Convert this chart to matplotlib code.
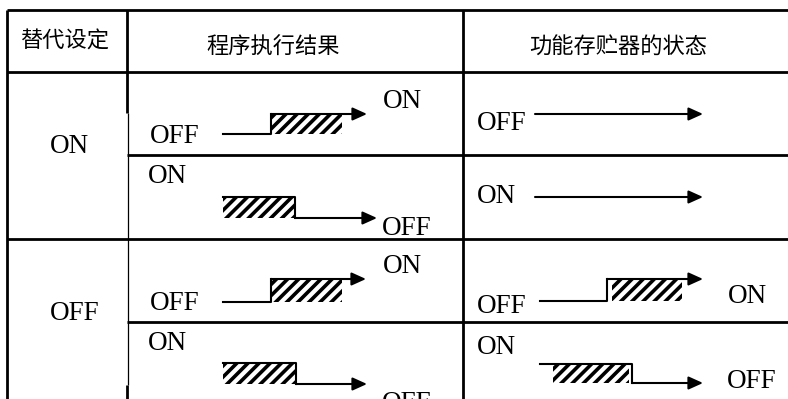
import matplotlib
matplotlib.use('Agg')
import matplotlib.pyplot as plt
from matplotlib.patches import Rectangle

plt.rcParams['hatch.linewidth'] = 2.6

headers = ['替代设定', '程序执行结果', '功能存贮器的状态']
settings = ['ON', 'OFF']
# (start state, end state) per sub-row
program_result = [('OFF', 'ON'), ('ON', 'OFF'), ('OFF', 'ON'), ('ON', 'OFF')]
memory_state = [('OFF', 'OFF'), ('ON', 'ON'), ('OFF', 'ON'), ('ON', 'OFF')]

# ---- layout (pixel units, y grows downward) ----
W, H = 788, 399
left, top, head_bot = 7, 10, 72
col_x = [127, 463]
row_tops = [72, 155, 239, 322]
serif = 'Liberation Serif'
fs = 19.5
lw = 1.5

# per cell geometry: x positions and y levels (hi = ON, lo = OFF)
prog_geo = [
    dict(lx=150, x0=223, step=271, tip=367, hatch=(272, 342), ex=383,
         hi=114, lo=134, lby=143, eby=108),
    dict(lx=148, x0=223, step=295, tip=377, hatch=(223, 294), ex=382,
         hi=197, lo=218, lby=183, eby=235),
    dict(lx=150, x0=223, step=271, tip=366, hatch=(272, 342), ex=383,
         hi=279, lo=302, lby=310, eby=273),
    dict(lx=148, x0=223, step=296, tip=367, hatch=(223, 295), ex=382,
         hi=363, lo=384, lby=350, eby=410),
]
mem_geo = [
    dict(lx=477, x0=535, tip=703, y=114, lby=130),
    dict(lx=477, x0=535, tip=703, y=197, lby=203),
    dict(lx=477, x0=540, step=607, tip=703, hatch=(612, 682), ex=728,
         hi=279, lo=301, lby=313, eby=303),
    dict(lx=477, x0=540, step=632, tip=703, hatch=(553, 629), ex=727,
         hi=364, lo=383, lby=354, eby=388),
]

fig = plt.figure(figsize=(W / 100, H / 100), dpi=100)
ax = fig.add_axes([0, 0, 1, 1])
ax.set_xlim(0, W)
ax.set_ylim(H, 0)
ax.axis('off')

arrow_props = dict(arrowstyle='-|>,head_length=0.62,head_width=0.28',
                   mutation_scale=14, lw=lw, color='black',
                   shrinkA=0, shrinkB=0)


def hline(y, x0, x1, w=2.0):
    ax.plot([x0, x1], [y, y], color='black', lw=w, solid_capstyle='butt')


def vline(x, y0, y1, w=2.0):
    ax.plot([x, x], [y0, y1], color='black', lw=w, solid_capstyle='butt')


def label(x, y, s):
    ax.text(x, y, s, family=serif, fontsize=fs, ha='left', va='baseline')


def arrow(x0, x1, y):
    ax.annotate('', xy=(x1, y), xytext=(x0, y), arrowprops=arrow_props)


def draw_cell(states, g):
    start, end = states
    if start == end:
        label(g['lx'], g['lby'], start)
        arrow(g['x0'], g['tip'], g['y'])
        return
    y_start = g['hi'] if start == 'ON' else g['lo']
    y_end = g['hi'] if end == 'ON' else g['lo']
    label(g['lx'], g['lby'], start)
    label(g['ex'], g['eby'], end)
    hx0, hx1 = g['hatch']
    ax.add_patch(Rectangle((hx0, g['hi']), hx1 - hx0, g['lo'] - g['hi'],
                           facecolor='white', edgecolor='black', lw=0,
                           hatch='///'))
    ax.plot([g['x0'], g['step'], g['step']], [y_start, y_start, y_end],
            color='black', lw=lw)
    arrow(g['step'], g['tip'], y_end)


# table frame
hline(top, left, W)
hline(head_bot, left, W)
hline(row_tops[1], col_x[0], W)
hline(row_tops[2], left, W)
hline(row_tops[3], col_x[0], W)
vline(left, top, H)
vline(col_x[0], top, 113)
vline(col_x[0] + 1.5, 113, 385, w=0.9)
vline(col_x[0], 385, H)
vline(col_x[1], top, H)

# headers
cjk = ['Noto Sans CJK SC', 'DejaVu Sans']
head_pos = [(65, 41), (273, 47), (618, 47)]
for (hx, hy), txt in zip(head_pos, headers):
    ax.text(hx, hy, txt, family=cjk, fontsize=16, ha='center', va='center')

# setting column
set_pos = [(50, 153), (50, 320)]
for (sx, sy), txt in zip(set_pos, settings):
    label(sx, sy, txt)

for states, g in zip(program_result, prog_geo):
    draw_cell(states, g)
for states, g in zip(memory_state, mem_geo):
    draw_cell(states, g)

fig.savefig('out.png', dpi=100)
